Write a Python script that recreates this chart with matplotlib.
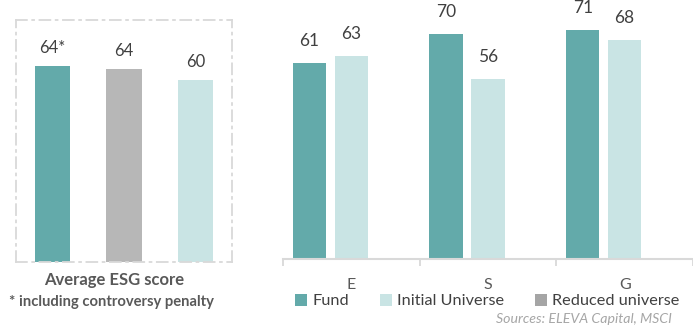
import numpy as np
import matplotlib.pyplot as plt

# --- Data ---
avg_labels = ["Fund", "Reduced universe", "Initial Universe"]
avg_values = [64.2, 63.3, 59.7]
avg_text = ["64*", "64", "60"]

pillars = ["E", "S", "G"]
fund_scores = [61, 70, 71]
initial_scores = [63, 56, 68]
reduced_scores = [np.nan, np.nan, np.nan]

# --- Style ---
TEAL = "#63AAAA"
LIGHT = "#C9E4E4"
GREY = "#B7B7B7"
GREY_LEGEND = "#A5A5A5"
TEXT = "#404040"
AXIS_TEXT = "#595959"
LINE = "#D9D9D9"
FONT = "Lato"

W, H = 693, 326
fig = plt.figure(figsize=(W / 100, H / 100), dpi=100)
plt.rcParams["font.family"] = [FONT, "DejaVu Sans"]


def box(x0, y0, x1, y1):
    # pixel box (top-left origin) -> figure fraction
    return [x0 / W, 1 - y1 / H, (x1 - x0) / W, (y1 - y0) / H]


# 1. Left panel: average ESG score
ax1 = fig.add_axes(box(16, 20, 232, 262))
x1 = np.arange(len(avg_values))
ax1.bar(x1, avg_values, width=0.49, color=[TEAL, GREY, LIGHT])
for xi, v, t in zip(x1, avg_values, avg_text):
    ax1.annotate(t, (xi, v), xytext=(0, 13), textcoords="offset points",
                 ha="center", va="center", fontsize=12, color=TEXT)
ax1.set_xlim(-0.51, 2.51)
ax1.set_ylim(0, 242 / 3.05)
ax1.set_xticks([])
ax1.set_yticks([])
for s in ax1.spines.values():
    s.set_color(LINE)
    s.set_linewidth(1.3)
    s.set_linestyle((0, (6, 3, 1, 3)))

fig.text(114 / W, 1 - 280 / H, "Average ESG score", ha="center", va="center",
         fontsize=12, fontweight="bold", color=AXIS_TEXT)
fig.text(9 / W, 1 - 302 / H, "* including controversy penalty", ha="left", va="center",
         fontsize=10.6, fontweight="bold", color=AXIS_TEXT)

# 2. Right panel: E / S / G pillars
ax2 = fig.add_axes(box(283, 259 - 80 * 3.22, 693, 259))
x2 = np.arange(len(pillars))
bw = 0.243
off = 0.307
b1 = ax2.bar(x2 - off, fund_scores, width=bw, color=TEAL, label="Fund")
b2 = ax2.bar(x2, initial_scores, width=bw, color=LIGHT, label="Initial Universe")
b3 = ax2.bar(x2 + off, reduced_scores, width=bw, color=GREY_LEGEND, label="Reduced universe")
for bars, vals in [(b1, fund_scores), (b2, initial_scores)]:
    for rect, v in zip(bars, vals):
        ax2.annotate(f"{v}", (rect.get_x() + rect.get_width() / 2, v), xytext=(0, 15.8),
                     textcoords="offset points", ha="center", va="center",
                     fontsize=12.5, color=TEXT)
ax2.set_xlim(-0.5, -0.5 + 410 / 140)
ax2.set_ylim(0, 80)
ax2.set_yticks([])
ax2.set_xticks(x2)
ax2.set_xticklabels(pillars, fontsize=11.5, color=AXIS_TEXT)
ax2.tick_params(axis="x", which="major", length=0, pad=14)
ax2.set_xticks(np.arange(-0.5, 3, 1), minor=True)
ax2.tick_params(axis="x", which="minor", length=5, width=1.3, color=LINE)
for side in ["top", "left", "right"]:
    ax2.spines[side].set_visible(False)
ax2.spines["bottom"].set_color(LINE)
ax2.spines["bottom"].set_linewidth(1.5)

leg = fig.legend(handles=[b1, b2, b3], loc="center left", bbox_to_anchor=(295 / W, 1 - 301 / H),
                 ncol=3, frameon=False, fontsize=11.7, handlelength=0.75, handleheight=0.75,
                 handletextpad=0.3, columnspacing=1.9, borderaxespad=0, borderpad=0)
for t in leg.get_texts():
    t.set_color(TEXT)

fig.text(672 / W, 1 - 319 / H, "Sources: ELEVA Capital, MSCI", ha="right", va="center",
         fontsize=10.2, style="italic", color="#A6A6A6")

fig.savefig("out.png", dpi=100)
